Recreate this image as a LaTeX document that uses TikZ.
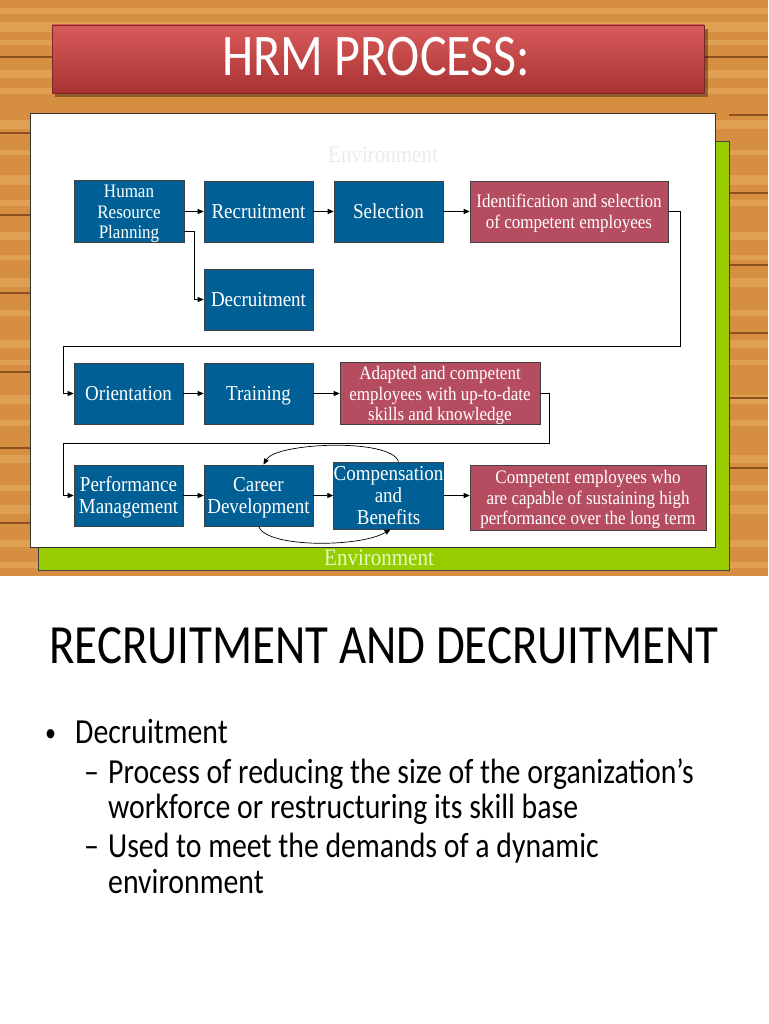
\documentclass[tikz,border=0pt]{standalone}
\usepackage{graphicx}
\usepackage{fontspec}
\setmainfont{Carlito}
\newfontfamily\tnr{Liberation Serif}
\newfontfamily\bulfont{Carlito}
\usetikzlibrary{arrows.meta,calc}
\definecolor{wood}{RGB}{214,142,64}
\definecolor{woodlight}{RGB}{232,176,100}
\definecolor{wooddark}{RGB}{140,80,30}
\definecolor{hrmblue}{RGB}{0,96,150}
\definecolor{hrmpink}{RGB}{182,76,96}
\definecolor{envgreen}{RGB}{153,204,0}
\definecolor{titlered}{RGB}{210,62,62}
\newcommand\tl[1]{\raisebox{-2.5pt}[\height][\depth]{\scalebox{1}[1.12]{\begin{tabular}{@{}c@{}}#1\end{tabular}}}}
\newcommand\ty[1]{\scalebox{1}[1.18]{#1}}
\tikzset{
  bluebox/.style={fill=hrmblue, draw=black!75, line width=0.6pt, text=white, align=center,
    inner sep=0pt, minimum width=109pt, minimum height=61pt, font=\tnr\fontsize{19}{20}\selectfont},
  pinkbox/.style={fill=hrmpink, draw=black!75, line width=0.6pt, text=white, align=center,
    inner sep=0pt, minimum height=61pt, font=\tnr\fontsize{17}{18.3}\selectfont},
  arr/.style={-{Triangle[length=6pt,width=5pt]}, line width=0.7pt, black},
  seam/.style={wooddark, line width=1.6pt},
  bul/.style={anchor=base west, inner sep=0pt, font=\bulfont\fontsize{29.8}{34}\selectfont},
}
\begin{document}
\begin{tikzpicture}[x=1pt,y=-1pt]
\useasboundingbox (0,0) rectangle (768,1024);
% backgrounds
\fill[white] (0,0) rectangle (768,1024);
\fill[wood] (0,0) rectangle (768,576);
\foreach \yy/\hh in {8/6,22/10,40/5,70/8,88/6,120/9,150/5,175/10,200/6,232/8,255/5,278/9,310/6,340/8,360/5,395/9,420/6,455/8,485/6,505/9,540/7,562/6}
  \fill[woodlight,opacity=0.55] (0,\yy) rectangle (768,\yy+\hh);
\draw[seam] (0,57) -- (768,57);
\foreach \yy in {133,215,293,372,448,523}
  \draw[seam] (0,\yy) -- (38,\yy);
\foreach \yy in {115,193,265,333,398,468}
  \draw[seam] (729,\yy) -- (768,\yy);
% title banner
\fill[black,opacity=0.35] (55,29) rectangle (708,97);
\shade[top color=titlered!85!white, bottom color=titlered!80!black, draw=titlered!60!black]
  (52,25) rectangle (704,93);
\node[text=white, font=\fontsize{50}{60}\selectfont] (title) at (376,57) {\ty{HRM PROCESS:}};
% environment frames
\draw[fill=envgreen, draw=black!75, line width=1pt] (38,142) rectangle (729,570);
\draw[fill=white, draw=black!80, line width=0.8pt] (30,113) rectangle (715,547);
\node[text=black!8, font=\tnr\fontsize{21}{24}\selectfont] (envtop) at (383,155) {\tl{Environment}};
\node[text=green!15!white!90!yellow, font=\tnr\fontsize{21}{24}\selectfont] (envbot) at (379,558) {\tl{Environment}};
% row 1
\node[bluebox, minimum width=110pt, font=\tnr\fontsize{17}{18.3}\selectfont] (hrp) at (129,211.5) {\tl{Human\\Resource\\Planning}};
\node[bluebox] (rec) at (258.5,211.5) {\tl{Recruitment}};
\node[bluebox] (sel) at (388.5,211.5) {\tl{Selection}};
\node[pinkbox, minimum width=198pt] (iden) at (569,211.5) {\tl{Identification and selection\\of competent employees}};
\node[bluebox] (dec) at (258.5,299.5) {\tl{Decruitment}};
% row 2
\node[bluebox] (ori) at (128.5,393.5) {\tl{Orientation}};
\node[bluebox] (tra) at (258.5,393.5) {\tl{Training}};
\node[pinkbox, minimum width=200pt] (adap) at (440,393.5) {\tl{Adapted and competent\\employees with up-to-date\\skills and knowledge}};
% row 3
\node[bluebox] (perf) at (128.5,495.5) {\tl{Performance\\Management}};
\node[bluebox] (car) at (258.5,495.5) {\tl{Career\\Development}};
\node[bluebox] (comp) at (388.5,495.5) {\tl{Compensation\\and\\Benefits}};
\node[pinkbox, minimum width=236pt, minimum height=65pt] (compet) at (588,497.5) {\tl{Competent employees who\\are capable of sustaining high\\performance over the long term}};
% turning points
\coordinate (t1) at (680,346);
\coordinate (t2) at (63,346);
\coordinate (t3) at (549,443);
\coordinate (t4) at (63,443);
% connectors
\draw[arr] (hrp.east) -- (rec.west);
\draw[arr] (rec.east) -- (sel.west);
\draw[arr] (sel.east) -- (iden.west);
\draw[arr] ([yshift=-20pt]hrp.east) -- ++(10,0) |- (dec.west);
\draw[arr] (iden.east) -| (t1) -- (t2) |- (ori.west);
\draw[arr] (ori.east) -- (tra.west);
\draw[arr] (tra.east) -- (adap.west);
\draw[arr] (adap.east) -| (t3) -- (t4) |- (perf.west);
\draw[arr] (perf.east) -- (car.west);
\draw[arr] (car.east) -- (comp.west);
\draw[arr] (comp.east) -- (comp.east -| compet.west);
\draw[arr] ([xshift=10pt]comp.north) .. controls +(-8,-24) and +(12,-22) .. ([xshift=5pt]car.north);
\draw[arr] (car.south) .. controls +(8,22) and +(-30,18) .. ([xshift=2pt]comp.south);
% second slide
\node[text=black, font=\fontsize{46.9}{54}\selectfont] (title2) at (384,646) {\ty{RECRUITMENT AND DECRUITMENT}};
\node[bul, font=\bulfont\fontsize{22}{26}\selectfont] (b1) at (45,741) {\ty{•}};
\node[bul] (b1t) at (75,743) {\ty{Decruitment}};
\node[bul] (d1) at (84,783) {\ty{–}};
\node[bul] (d1t) at (108,783) {\ty{Process of reducing the size of the organization’s}};
\node[bul] (d1u) at (108,818) {\ty{workforce or restructuring its skill base}};
\node[bul] (d2) at (84,857) {\ty{–}};
\node[bul] (d2t) at (108,857) {\ty{Used to meet the demands of a dynamic}};
\node[bul] (d2u) at (108,893) {\ty{environment}};
\end{tikzpicture}
\end{document}
